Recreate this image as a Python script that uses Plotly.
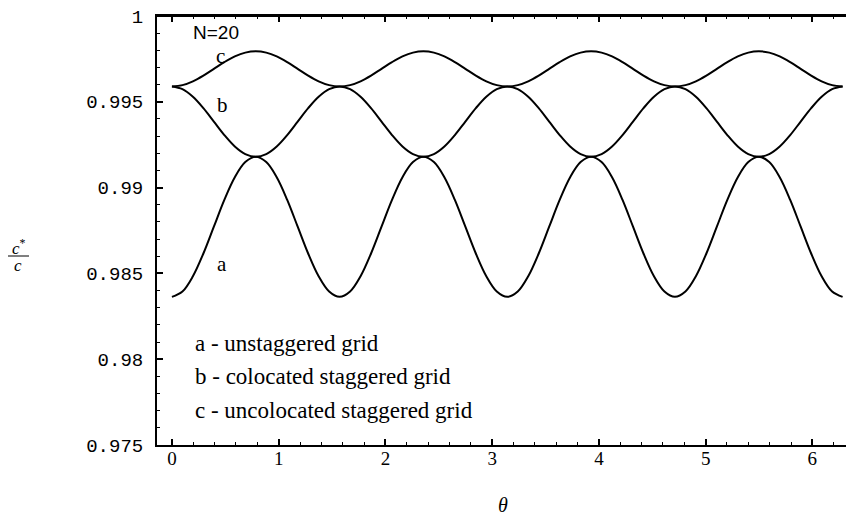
import plotly.graph_objects as go

# theta values (radians), 0 .. 2*pi
theta = [0.0, 0.0982, 0.1963, 0.2945, 0.3927, 0.4909, 0.5890, 0.6872, 0.7854, 0.8836,
         0.9817, 1.0799, 1.1781, 1.2763, 1.3744, 1.4726, 1.5708, 1.6690, 1.7671, 1.8653,
         1.9635, 2.0617, 2.1598, 2.2580, 2.3562, 2.4544, 2.5525, 2.6507, 2.7489, 2.8471,
         2.9452, 3.0434, 3.1416, 3.2398, 3.3379, 3.4361, 3.5343, 3.6325, 3.7306, 3.8288,
         3.9270, 4.0252, 4.1233, 4.2215, 4.3197, 4.4179, 4.5160, 4.6142, 4.7124, 4.8106,
         4.9087, 5.0069, 5.1051, 5.2033, 5.3014, 5.3996, 5.4978, 5.5960, 5.6941, 5.7923,
         5.8905, 5.9887, 6.0868, 6.1850, 6.2832]

# a - unstaggered grid
ratio_a = [0.983632, 0.983944, 0.984832, 0.986159, 0.987722, 0.989283, 0.990604, 0.991486,
           0.991796, 0.991486, 0.990604, 0.989283, 0.987722, 0.986159, 0.984832, 0.983944,
           0.983632, 0.983944, 0.984832, 0.986159, 0.987722, 0.989283, 0.990604, 0.991486,
           0.991796, 0.991486, 0.990604, 0.989283, 0.987722, 0.986159, 0.984832, 0.983944,
           0.983632, 0.983944, 0.984832, 0.986159, 0.987722, 0.989283, 0.990604, 0.991486,
           0.991796, 0.991486, 0.990604, 0.989283, 0.987722, 0.986159, 0.984832, 0.983944,
           0.983632, 0.983944, 0.984832, 0.986159, 0.987722, 0.989283, 0.990604, 0.991486,
           0.991796, 0.991486, 0.990604, 0.989283, 0.987722, 0.986159, 0.984832, 0.983944,
           0.983632]

# b - colocated staggered grid
ratio_b = [0.995893, 0.995737, 0.995294, 0.994630, 0.993847, 0.993062, 0.992397, 0.991952,
           0.991796, 0.991952, 0.992397, 0.993062, 0.993847, 0.994630, 0.995294, 0.995737,
           0.995893, 0.995737, 0.995294, 0.994630, 0.993847, 0.993062, 0.992397, 0.991952,
           0.991796, 0.991952, 0.992397, 0.993062, 0.993847, 0.994630, 0.995294, 0.995737,
           0.995893, 0.995737, 0.995294, 0.994630, 0.993847, 0.993062, 0.992397, 0.991952,
           0.991796, 0.991952, 0.992397, 0.993062, 0.993847, 0.994630, 0.995294, 0.995737,
           0.995893, 0.995737, 0.995294, 0.994630, 0.993847, 0.993062, 0.992397, 0.991952,
           0.991796, 0.991952, 0.992397, 0.993062, 0.993847, 0.994630, 0.995294, 0.995737,
           0.995893]

# c - uncolocated staggered grid
ratio_c = [0.995893, 0.995971, 0.996194, 0.996527, 0.996920, 0.997312, 0.997645, 0.997867,
           0.997945, 0.997867, 0.997645, 0.997312, 0.996920, 0.996527, 0.996194, 0.995971,
           0.995893, 0.995971, 0.996194, 0.996527, 0.996920, 0.997312, 0.997645, 0.997867,
           0.997945, 0.997867, 0.997645, 0.997312, 0.996920, 0.996527, 0.996194, 0.995971,
           0.995893, 0.995971, 0.996194, 0.996527, 0.996920, 0.997312, 0.997645, 0.997867,
           0.997945, 0.997867, 0.997645, 0.997312, 0.996920, 0.996527, 0.996194, 0.995971,
           0.995893, 0.995971, 0.996194, 0.996527, 0.996920, 0.997312, 0.997645, 0.997867,
           0.997945, 0.997867, 0.997645, 0.997312, 0.996920, 0.996527, 0.996194, 0.995971,
           0.995893]

x_ticks = [0, 1, 2, 3, 4, 5, 6]
x_ticktext = ["0", "1", "2", "3", "4", "5", "6"]
y_ticks = [0.975, 0.98, 0.985, 0.99, 0.995, 1.0]
y_ticktext = ["0.975", "0.98", "0.985", "0.99", "0.995", "1"]

legend_lines = ["a - unstaggered grid", "b - colocated staggered grid", "c - uncolocated staggered grid"]

# the page body has an 8 px margin, so the figure is drawn 8 px in from the corner
OFF = 8
W, H = 854 - OFF, 518 - OFF
L, R, T, B = 149, 0, 8, 73
PW, PH = W - L - R, H - T - B


def px(xpage):
    return (xpage - OFF - L) / PW


def py(ypage):
    return (H - B - (ypage - OFF)) / PH


SERIF = "Liberation Serif"
MONO = "Liberation Mono"
SANS = "Liberation Sans"

fig = go.Figure()
for ys in (ratio_a, ratio_b, ratio_c):
    fig.add_trace(go.Scatter(x=theta, y=ys, mode="lines",
                             line=dict(color="black", width=2, shape="spline", smoothing=1),
                             showlegend=False, hoverinfo="skip"))

ann = []


def add_text(text, xpage, ypage, size, family=SERIF, xanchor="left"):
    ann.append(dict(text=text, x=px(xpage), y=py(ypage), xref="paper", yref="paper",
                    xanchor=xanchor, yanchor="middle", showarrow=False, borderpad=0,
                    font=dict(family=family, size=size, color="black")))


add_text("N=20", 192, 33, 19, SANS)
add_text("c", 215, 56, 21)
add_text("b", 216, 105, 21)
add_text("a", 216, 264, 21)
for i, t in enumerate(legend_lines):
    add_text(t, 194, 343 + i * 33.5, 23)

# axis titles
add_text("<i>θ</i>", 503, 505, 20, xanchor="center")
add_text("<i>c</i><sup>*</sup>", 19, 247, 17, xanchor="center")
add_text("<i>c</i>", 18, 265, 17, xanchor="center")

fig.update_layout(
    width=W, height=H, autosize=False,
    margin=dict(l=L, r=R, t=T, b=B, pad=0),
    paper_bgcolor="white", plot_bgcolor="white",
    annotations=ann,
    shapes=[dict(type="line", xref="paper", yref="paper",
                 x0=px(8), x1=px(29), y0=py(256), y1=py(256),
                 line=dict(color="black", width=1)),
            dict(type="line", xref="paper", yref="paper",
                 x0=0, x1=1, y0=1, y1=1,
                 line=dict(color="black", width=2))],
    xaxis=dict(range=[-0.14, 6.39], tickmode="array", tickvals=x_ticks, ticktext=x_ticktext,
               ticks="inside", ticklen=6, tickwidth=1.5, tickcolor="black",
               showline=True, linewidth=2, linecolor="black", mirror="ticks",
               showgrid=False, zeroline=False, ticklabelstandoff=-5, automargin=False,
               ticklabeloverflow="allow",
               tickfont=dict(family=SERIF, size=19, color="black"),
               minor=dict(dtick=0.2, tick0=0, ticks="inside", ticklen=3, tickwidth=1,
                          tickcolor="black", showgrid=False)),
    yaxis=dict(range=[0.975, 1.0], tickmode="array", tickvals=y_ticks, ticktext=y_ticktext,
               ticks="inside", ticklen=6, tickwidth=1.5, tickcolor="black",
               showline=True, linewidth=2, linecolor="black", mirror=False,
               showgrid=False, zeroline=False, ticklabelstandoff=8, automargin=False,
               ticklabeloverflow="allow",
               tickfont=dict(family=MONO, size=19, color="black"),
               minor=dict(dtick=0.001, tick0=0.975, ticks="inside", ticklen=3, tickwidth=1,
                          tickcolor="black", showgrid=False)),
)

fig.write_html("out.html")
